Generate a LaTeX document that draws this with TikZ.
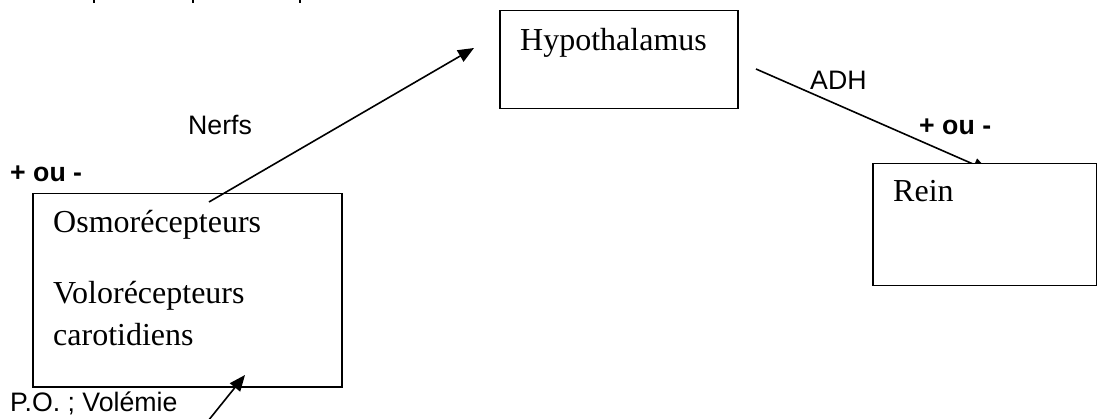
\documentclass[tikz,border=0pt]{standalone}
\usepackage{fontspec}
\setmainfont{Liberation Serif}
\newfontfamily\arialfont{Liberation Sans}
\usetikzlibrary{arrows.meta}

\tikzset{
  boite/.style={draw,line width=1.5pt,inner sep=0pt,anchor=north west},
  texte/.style={anchor=base west,inner sep=0pt,font=\fontsize{32}{40}\selectfont},
  etiq/.style={anchor=base west,inner sep=0pt,font=\arialfont\fontsize{26.7}{32}\selectfont},
  fleche/.style={line width=1.6pt,-{Triangle[length=16pt,width=13pt]}}
}

\begin{document}
\begin{tikzpicture}[x=1pt,y=-1pt]
\path[use as bounding box] (0,0) rectangle (1097,419);
% bouts de texte coupes en haut
\foreach \xx in {94,193,300} \draw[line width=2pt] (\xx,0) -- (\xx,3);
% boites
\node[boite,minimum width=238pt,minimum height=98pt] (hypo) at (499,10) {};
\node[boite,minimum width=309pt,minimum height=193pt] (osmo) at (32,193) {};
\node[texte] (hypotxt) at (520,51) {Hypothalamus};
\node[texte] (osmotxt) at (53,233) {Osmorécepteurs};
\node[texte] (volotxt) at (53,304) {Volorécepteurs};
\node[texte] (carotxt) at (53,345) {carotidiens};
% fleches
\coordinate (nerfs0) at (209,202);
\coordinate (nerfs1) at (474,48);
\coordinate (po0) at (208,421);
\coordinate (po1) at (245,375);
\coordinate (adh0) at (756,69);
\coordinate (adh1) at (989,171);
\draw[fleche] (nerfs0) -- (nerfs1);
\draw[fleche] (po0) -- (po1);
\draw[fleche] (adh0) -- (adh1);
\node[boite,fill=white,minimum width=224pt,minimum height=122pt] (rein) at (872,163) {};
\node[texte] (reintxt) at (893,202) {Rein};
% etiquettes
\node[etiq] (nerfs) at (188,135) {Nerfs};
\node[etiq] (adh) at (810,90) {ADH};
\node[etiq,font=\arialfont\bfseries\fontsize{26.7}{32}\selectfont] (signe1) at (10,182) {+ ou -};
\node[etiq,font=\arialfont\bfseries\fontsize{26.7}{32}\selectfont] (signe2) at (919,135) {+ ou -};
\node[etiq] (po) at (10,411) {P.O. ; Volémie};
\end{tikzpicture}
\end{document}
